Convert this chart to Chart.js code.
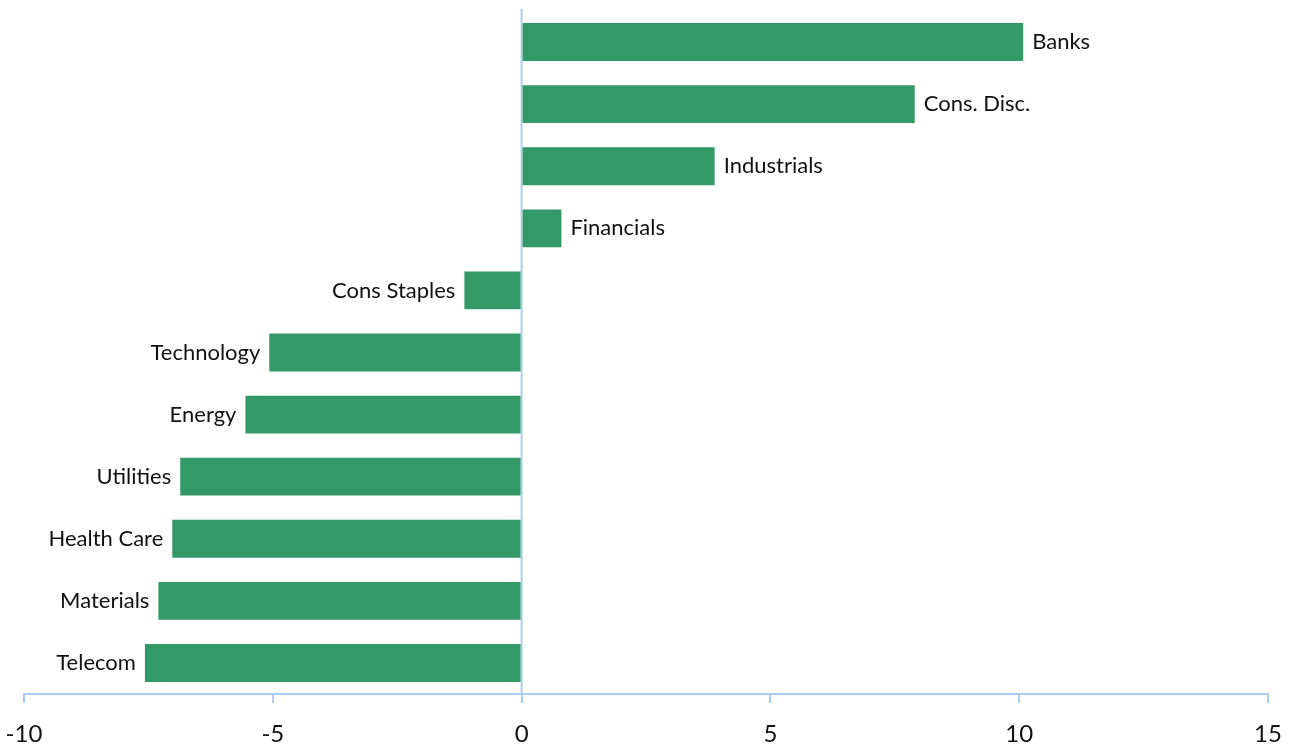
<!DOCTYPE html>
<html>
<head>
<meta charset="utf-8">
<script src="https://cdn.jsdelivr.net/npm/chart.js@4/dist/chart.umd.min.js"></script>
<style>
  html, body { margin: 0; padding: 0; background: #fff; }
  #wrap { width: 1290px; height: 747px; }
</style>
</head>
<body>
<div id="wrap"><canvas id="sectorChart" width="1290" height="747"></canvas></div>
<script>
// sectores y valores
const sectors = ['Banks', 'Cons. Disc.', 'Industrials', 'Financials', 'Cons Staples',
    'Technology', 'Energy', 'Utilities', 'Health Care', 'Materials', 'Telecom'];
const changes = [10.08, 7.9, 3.88, 0.8, -1.15, -5.07, -5.55, -6.86, -7.02, -7.3, -7.57];
const xTicks = [-10, -5, 0, 5, 10, 15];

const green = '#339966';
const axisBlue = '#A9CDF3';
const fontFamily = 'Lato, "Open Sans", sans-serif';

// etiquetas al final de cada barra
const barLabels = {
    id: 'barLabels',
    afterDatasetsDraw(chart) {
        const ctx = chart.ctx;
        const meta = chart.getDatasetMeta(0);
        ctx.save();
        ctx.font = '22px ' + fontFamily;
        ctx.fillStyle = '#111';
        ctx.textBaseline = 'middle';
        meta.data.forEach((bar, i) => {
            const v = changes[i];
            if (v >= 0) {
                ctx.textAlign = 'left';
                ctx.fillText(sectors[i], bar.x + 9, bar.y);
            } else {
                ctx.textAlign = 'right';
                ctx.fillText(sectors[i], bar.x - 9, bar.y);
            }
        });
        ctx.restore();
    }
};

// línea vertical en cero
const zeroLine = {
    id: 'zeroLine',
    beforeDatasetsDraw(chart) {
        const x = chart.scales.x.getPixelForValue(0);
        const ctx = chart.ctx;
        ctx.save();
        ctx.strokeStyle = axisBlue;
        ctx.lineWidth = 2;
        ctx.beginPath();
        ctx.moveTo(x, chart.chartArea.top - 2);
        ctx.lineTo(x, chart.chartArea.bottom);
        ctx.stroke();
        ctx.restore();
    }
};

new Chart(document.getElementById('sectorChart'), {
    type: 'bar',
    data: {
        labels: sectors,
        datasets: [{
            data: changes,
            backgroundColor: green,
            borderWidth: 0,
            barPercentage: 0.61,
            categoryPercentage: 1
        }]
    },
    options: {
        indexAxis: 'y',
        responsive: false,
        animation: false,
        devicePixelRatio: 1,
        layout: { padding: { top: 11, left: 24, right: 22, bottom: 0 } },
        plugins: {
            legend: { display: false },
            tooltip: { enabled: false }
        },
        scales: {
            x: {
                min: -10,
                max: 15,
                afterBuildTicks(scale) {
                    scale.ticks = xTicks.map(v => ({ value: v }));
                },
                afterFit(scale) {
                    // altura fija del eje y sin relleno lateral extra
                    scale.height = 53;
                    scale.paddingLeft = 0;
                    scale.paddingRight = 0;
                },
                grid: {
                    drawOnChartArea: false,
                    drawTicks: true,
                    tickLength: 9,
                    color: axisBlue,
                    lineWidth: 2
                },
                border: { color: axisBlue, width: 2 },
                ticks: {
                    color: '#111',
                    font: { family: fontFamily, size: 24 },
                    padding: 17,
                    maxRotation: 0
                }
            },
            y: {
                display: false
            }
        }
    },
    plugins: [zeroLine, barLabels]
});
</script>
</body>
</html>
